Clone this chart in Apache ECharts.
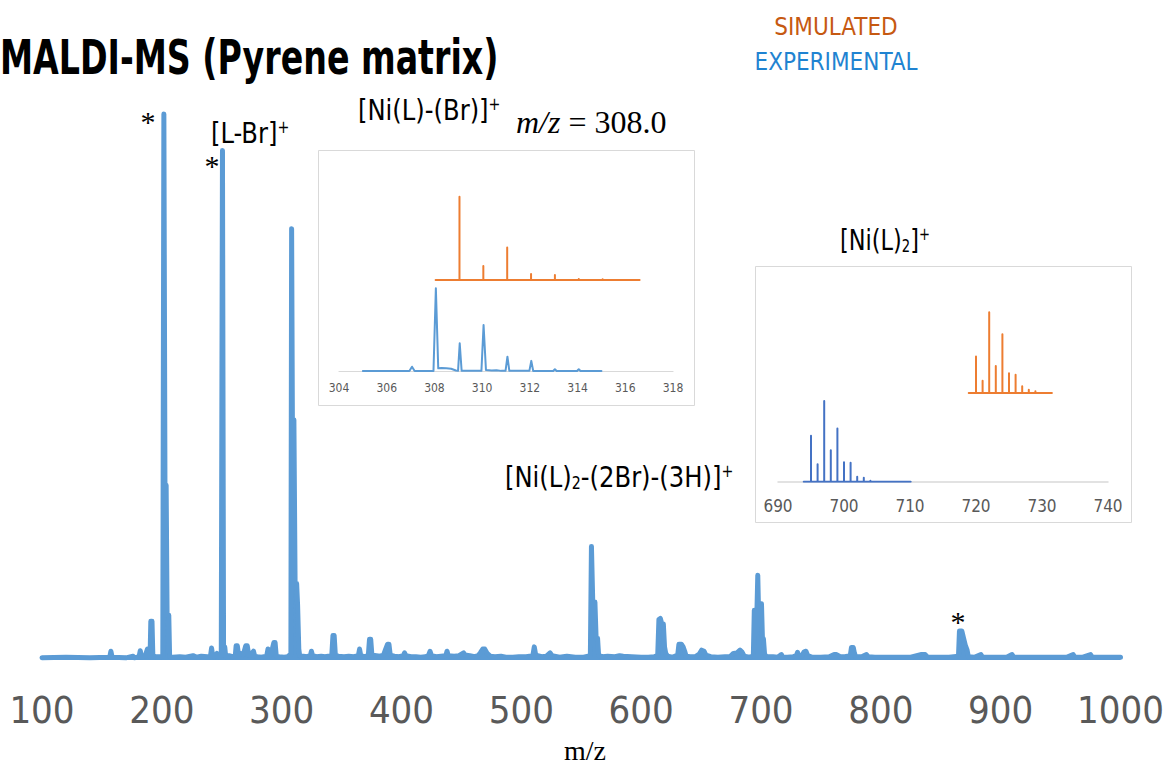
<!DOCTYPE html>
<html>
<head>
<meta charset="utf-8">
<script src="https://cdn.jsdelivr.net/npm/echarts@6/dist/echarts.min.js"></script>
<style>
html,body{margin:0;padding:0;background:#fff;}
#chart{width:1167px;height:764px;}
</style>
</head>
<body>
<div id="chart"></div>
<script>
// ---------------- DATA ----------------
// Main MALDI spectrum: [m/z, relative intensity]
const MAIN_SPECTRUM = [
 [100,0.4],[120,0.5],[140,0.4],[156.5,0.5],[157.5,1.6],[158.5,0.5],[170,0.4],[176,0.7],[177,0.4],
 [181,0.6],[182,1.7],[183,0.6],[186,0.7],[188,2.0],[189,0.8],[190.2,0.8],[190.8,7.1],[191.8,7.1],[192.5,0.8],
 [195,0.6],[199.5,0.6],[200.8,0.8],[201.7,100],[202.6,32],[203.6,32],[204.4,8.2],[205.8,8.2],[206.5,0.6],
 [209,0.5],[215,0.6],[220,0.5],[226,0.8],[229,0.5],[233,0.7],[238,0.6],[240.6,0.7],[241.5,2.2],[242.4,0.8],
 [244,0.6],[246,1.2],[247,0.6],[249.6,0.8],[250.6,93.3],[251.5,2.4],[252.5,2.4],[253.3,0.6],
 [256,0.8],[259,0.6],[261.3,0.8],[262,2.6],[263,2.6],[264,1.0],[266,1.2],[268,1.0],[270,2.6],[271.3,2.6],
 [272.5,0.9],[274,0.9],[276.5,1.6],[277.5,0.7],[280,0.6],[283,0.5],[287.5,0.7],[288.6,2.0],[289.7,0.8],
 [291.3,1.2],[293.5,3.2],[294.5,3.2],[295.5,0.7],[298,0.6],[302,0.5],[305,0.6],[307.1,1.0],[307.7,1.0],
 [308.3,79],[309.2,30],[310.2,44],[311.2,14],[312.5,14],[313.3,10],[314.3,2],[315,0.8],
 [318,0.7],[321,0.6],[324,0.8],[324.8,1.6],[325.8,0.8],[329,0.6],[333,0.7],[336,0.6],[341.8,0.8],
 [342.8,4.5],[343.8,4.5],[344.8,0.9],[347,0.7],[352,0.6],[356,0.7],[360,0.6],[364,0.8],[365,2.0],[366,0.8],
 [369,0.6],[372.3,0.8],[373.3,3.8],[374.3,3.8],[375.3,0.9],[379,0.8],[382,0.7],[385,0.9],[386.8,2.0],
 [388.4,2.9],[389.5,2.9],[390.6,0.9],[394,0.7],[398,0.6],[401.5,0.8],[402.5,1.3],[403.6,0.8],[408,0.6],
 [412,0.6],[416,0.5],[420,0.6],[422.5,0.8],[423.8,1.6],[425,0.8],[429,0.6],[433,0.7],[437,0.8],[438,1.6],
 [439,0.8],[444,0.7],[448,0.8],[451.8,1.3],[453,0.9],[457,0.8],[461,0.6],[464,0.8],[466,1.4],[467.8,2.0],
 [469.5,2.0],[471.5,1.2],[474,0.7],[478,0.6],[483,0.7],[487,0.5],[493,0.5],[498,0.6],[504,0.6],[509.6,0.8],
 [510.8,2.4],[512,0.9],[517,0.6],[521,0.7],[524,1.3],[525.5,0.8],[532,0.5],[538,0.7],[545,0.5],[552,0.5],
 [557.6,0.8],[558.5,20.8],[559.6,10.6],[561.4,10.6],[562.4,4],[563.6,4],[564.5,0.8],[568,0.6],[572,0.7],
 [578,0.6],[582,0.8],[585,0.7],[592,0.6],[600,0.5],[606,0.5],[611,0.6],[613.8,0.8],[614.8,7.4],[616,7.6],
 [617.2,6.6],[618.5,6.6],[619.5,2.4],[620.5,1.2],[622,0.7],[626,0.5],[630.5,0.9],[631.5,2.9],[633.5,2.9],
 [635,2.4],[636.3,1.6],[637.5,0.7],[641,0.6],[645,0.6],[648.5,1.1],[650.5,1.8],[652.5,1.6],[654,0.9],
 [658,0.6],[664,0.5],[670,0.6],[674,0.6],[677,1.2],[680,1.3],[682.5,1.8],[684,1.5],[686,0.7],[690,0.5],
 [693.6,0.7],[694.4,9.1],[695.4,9.1],[696.2,5],[697.3,15.5],[698.2,6.5],[699.1,10.3],[700.4,10.3],
 [701.2,3.9],[702,3.9],[703,1],[705,0.6],[710,0.6],[714,0.5],[717,1.0],[718,0.5],[722,0.5],[727,0.6],
 [729.6,0.8],[730.5,1.4],[731.5,0.8],[734,0.7],[736,1.5],[737.5,1.6],[739,0.8],[743,0.5],[750,0.5],
 [757,0.6],[761,1.0],[763,1.0],[766,0.6],[770,0.6],[774.5,0.8],[775.5,2.3],[777,2.3],[778,1.2],[779,0.6],
 [784,0.6],[788,1.0],[789.5,0.6],[795,0.5],[805,0.5],[815,0.5],[825,0.5],[834,1.0],[837,1.0],[839,0.5],
 [848,0.5],[857,0.5],[864.8,0.7],[865.6,5.3],[867.6,5.3],[869,4],[870.5,2.7],[872,1.8],[873,0.6],
 [878,0.5],[883.5,1.0],[885,0.5],[895,0.5],[905,0.5],[909.5,1.0],[911,0.5],[925,0.5],[940,0.5],
 [955,0.5],[960.5,1.0],[962,0.5],[968,0.5],[975,1.0],[976.5,0.5],[985,0.5],[1000,0.5]
];
const MAIN_TICKS = [100,200,300,400,500,600,700,800,900,1000];

// Inset 1: [Ni(L)-(Br)]+ around m/z 308
const INSET1_EXP = [
 [305,0.8],[306.95,0.8],[307.06,6],[307.17,0.8],[307.96,0.8],[308.06,100],[308.16,4],[308.3,4.5],
 [308.5,4],[308.7,3.5],[308.9,1.5],[308.99,1],[309.06,34],[309.14,1.2],[309.5,1],[309.97,1],[310.06,56],
 [310.16,2],[310.4,1.5],[310.6,1.8],[310.8,1],[310.98,1],[311.06,18],[311.14,1],[311.98,1],[312.06,13],
 [312.14,0.8],[312.98,0.8],[313.05,3],[313.12,0.8],[313.98,0.8],[314.05,3],[314.12,0.8],[315,0.8]
];
const INSET1_SIM_MZ  = [309.05,310.05,311.05,312.05,313.05,314.05,315.05,316.05];
const INSET1_SIM_INT = [100,16.8,39,7.2,6,1.2,1,0.6];
const INSET1_SIM_RANGE = [308.05,316.6];
const INSET1_TICKS = [304,306,308,310,312,314,316,318];

// Inset 2: [Ni(L)2]+ around m/z 697 / 722
const INSET2_EXP_MZ  = [695,696,697,698,699,700,701,702,703,704,705,706,707,708,709];
const INSET2_EXP_INT = [57,21.5,100,39,66,24,23.5,6,5,1.2,0.8,0.8,0.8,0.8,0.8];
const INSET2_EXP_RANGE = [693.9,710.1];
const INSET2_SIM_MZ  = [720,721,722,723,724,725,726,727,728,729,730];
const INSET2_SIM_INT = [45,15,100,33.5,72.6,24.5,22.4,8.2,4,2,0.8];
const INSET2_SIM_RANGE = [718.9,731.5];
const INSET2_TICKS = [690,700,710,720,730,740];

// display offset of simulated traces above experimental traces (intensity units)
const SIM_OFFSET = 110;

// --------------- BUILD ----------------
function sticks(mzs, ints, range, off){
  const out = [[range[0], off]];
  for (let i = 0; i < mzs.length; i++){
    out.push([mzs[i], off], [mzs[i], off + ints[i]], [mzs[i], off]);
  }
  out.push([range[1], off]);
  return out;
}

const SANS = '"DejaVu Sans Condensed","DejaVu Sans","Open Sans",sans-serif';
const SERIF = '"Liberation Serif","DejaVu Serif",serif';
const BLUE = '#5B9BD5', ORANGE = '#ED7D31', DBLUE = '#4472C4';

const chart = echarts.init(document.getElementById('chart'), null, {renderer:'svg'});

function lineSeries(xi, yi, data, color, width, z, area){
  const s = {type:'line', xAxisIndex:xi, yAxisIndex:yi, data:data, showSymbol:false, symbol:'none',
    sampling:null, animation:false, z:z||2, silent:true,
    lineStyle:{color:color, width:width, join:'round', cap:'round'}};
  if (area) s.areaStyle = {color:color, opacity:1};
  return s;
}

const SUPSUB = {
  sup:{fontSize:17, fontFamily:SANS, fill:'#000', verticalAlign:'top'},
  sub:{fontSize:17, fontFamily:SANS, fill:'#000', verticalAlign:'bottom'}
};
function label(text, x, y, sx){
  return {type:'text', z:10, x:x, y:y, scaleX:sx, style:{text:text, x:0, y:0, fontSize:29, fontFamily:SANS,
    fill:'#000', align:'left', verticalAlign:'middle', rich:SUPSUB}};
}

const option = {
  animation:false,
  backgroundColor:'#ffffff',
  grid:[
    {left:42, right:45, top:59.4, bottom:104},
    {left:339, right:494, top:171.7, bottom:392.3},
    {left:778, right:59, top:288, bottom:282.3}
  ],
  xAxis:[
    {type:'value', gridIndex:0, min:100, max:1000, interval:100,
     axisLine:{show:false}, axisTick:{show:false}, splitLine:{show:false},
     axisLabel:{color:'#595959', fontSize:38, fontFamily:SANS, margin:31,
       formatter:function(v){ return MAIN_TICKS.indexOf(v) >= 0 ? String(v) : ''; }}},
    {type:'value', gridIndex:1, min:304, max:318, interval:2,
     axisLine:{show:true, lineStyle:{color:'#D9D9D9', width:1.2}}, axisTick:{show:false}, splitLine:{show:false},
     axisLabel:{color:'#595959', fontSize:12, fontFamily:SANS, margin:10,
       formatter:function(v){ return INSET1_TICKS.indexOf(v) >= 0 ? String(v) : ''; }}},
    {type:'value', gridIndex:2, min:690, max:740, interval:10,
     axisLine:{show:true, lineStyle:{color:'#D9D9D9', width:1.5}}, axisTick:{show:false}, splitLine:{show:false},
     axisLabel:{color:'#595959', fontSize:17, fontFamily:SANS, margin:16,
       formatter:function(v){ return INSET2_TICKS.indexOf(v) >= 0 ? String(v) : ''; }}}
  ],
  yAxis:[
    {type:'value', gridIndex:0, min:0, max:110, show:false, splitLine:{show:false}},
    {type:'value', gridIndex:1, min:0, max:240, show:false, splitLine:{show:false}},
    {type:'value', gridIndex:2, min:0, max:240, show:false, splitLine:{show:false}}
  ],
  series:[
    lineSeries(0,0, MAIN_SPECTRUM, BLUE, 5, 3, true),
    lineSeries(1,1, INSET1_EXP, BLUE, 2),
    lineSeries(1,1, sticks(INSET1_SIM_MZ, INSET1_SIM_INT, INSET1_SIM_RANGE, SIM_OFFSET), ORANGE, 2),
    lineSeries(2,2, sticks(INSET2_EXP_MZ, INSET2_EXP_INT, INSET2_EXP_RANGE, 0), DBLUE, 2),
    lineSeries(2,2, sticks(INSET2_SIM_MZ, INSET2_SIM_INT, INSET2_SIM_RANGE, SIM_OFFSET), ORANGE, 2)
  ],
  graphic:[
    {type:'rect', z:0, shape:{x:318.5, y:150.5, width:376, height:255}, style:{fill:'#fff', stroke:'#D9D9D9', lineWidth:1}},
    {type:'rect', z:0, shape:{x:755.5, y:266.5, width:376, height:256}, style:{fill:'#fff', stroke:'#D9D9D9', lineWidth:1}},
    {type:'text', z:10, x:0, y:57, scaleX:0.77, style:{text:'MALDI-MS (Pyrene matrix)', x:0, y:0, fontSize:48, fontWeight:'bold', fontFamily:SANS, fill:'#000', align:'left', verticalAlign:'middle'}},
    {type:'text', z:10, style:{text:'SIMULATED', x:836, y:27, fontSize:24, fontFamily:SANS, fill:'#C65911', align:'center', verticalAlign:'middle'}},
    {type:'text', z:10, style:{text:'EXPERIMENTAL', x:836, y:62, fontSize:24, fontFamily:SANS, fill:'#1F83D1', align:'center', verticalAlign:'middle'}},
    {type:'text', z:10, style:{text:'*', x:148, y:121, fontSize:30, fontFamily:SERIF, fill:'#000', align:'center', verticalAlign:'middle'}},
    {type:'text', z:10, style:{text:'*', x:212, y:165, fontSize:30, fontFamily:SERIF, fill:'#000', align:'center', verticalAlign:'middle'}},
    {type:'text', z:10, style:{text:'*', x:958, y:621, fontSize:30, fontFamily:SERIF, fill:'#000', align:'center', verticalAlign:'middle'}},
    label('[L-Br]{sup|+}', 211, 133, 0.93),
    label('[Ni(L)-(Br)]{sup|+}', 358, 110, 0.93),
    {type:'text', z:10, style:{text:'{i|m/z} = 308.0', x:516, y:122, fontSize:32, fontFamily:SERIF, fill:'#000', align:'left', verticalAlign:'middle',
      rich:{i:{fontSize:32, fontFamily:SERIF, fontStyle:'italic', fill:'#000'}}}},
    label('[Ni(L){sub|2}]{sup|+}', 840, 240, 0.86),
    label('[Ni(L){sub|2}-(2Br)-(3H)]{sup|+}', 505, 477, 0.93),
    {type:'text', z:10, style:{text:'m/z', x:585, y:750, fontSize:28, fontFamily:SERIF, fill:'#000', align:'center', verticalAlign:'middle'}}
  ]
};
chart.setOption(option);
</script>
</body>
</html>
